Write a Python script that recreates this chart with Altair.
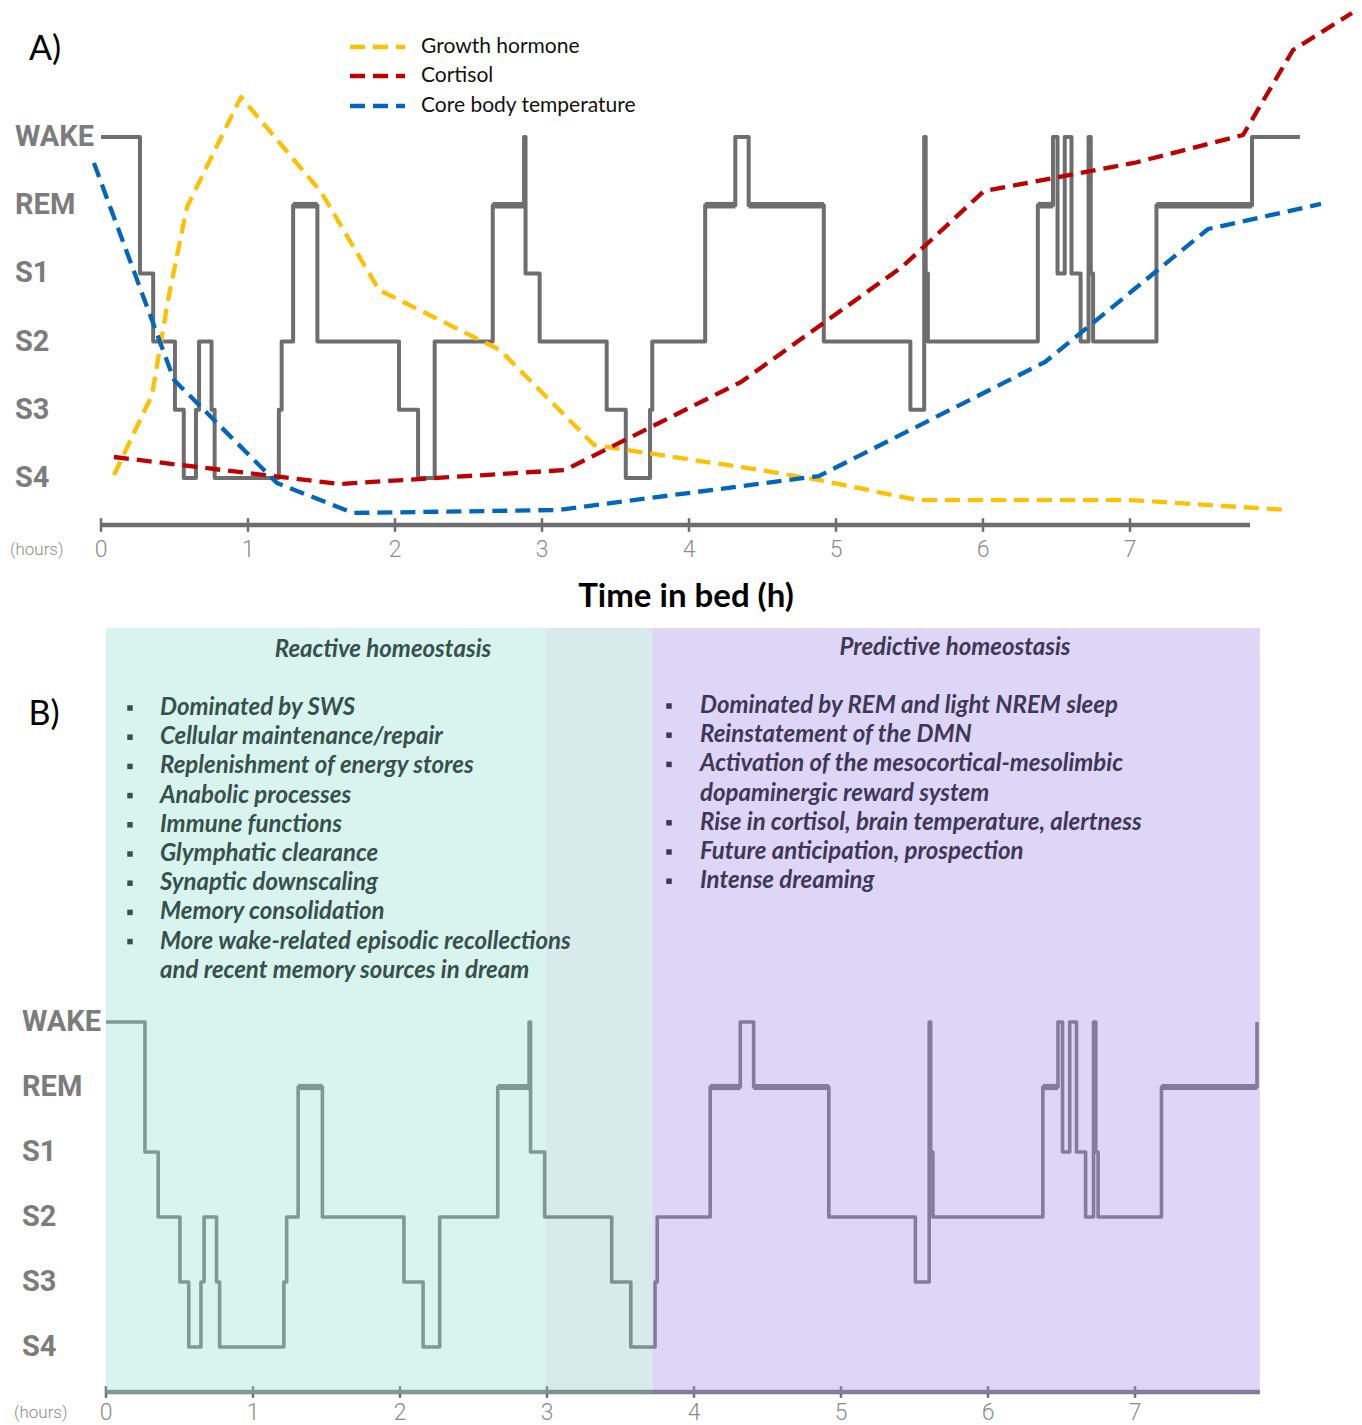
import altair as alt
import pandas as pd

# ---------------- data ----------------
STAGES = ["S4", "S3", "S2", "S1", "REM", "WAKE"]  # bottom -> top

# hypnogram: time (h) at which each stage begins
hyp_times = [0, 0.265, 0.355, 0.503, 0.563, 0.646, 0.667, 0.752, 0.773, 1.21, 1.229,
             1.307, 1.472, 2.027, 2.157, 2.27, 2.665, 2.878, 2.888, 2.984, 3.44, 3.57,
             3.735, 3.75, 4.11, 4.315, 4.406, 4.917, 5.506, 5.60, 5.61, 5.625, 6.373,
             6.476, 6.507, 6.556, 6.602, 6.664, 6.718, 6.733, 6.749, 7.18, 7.83]
hyp_stages = ["WAKE", "S1", "S2", "S3", "S4", "S3", "S2", "S3", "S4", "S3", "S2",
              "REM", "S2", "S3", "S4", "S2", "REM", "WAKE", "S1", "S2", "S3", "S4",
              "S3", "S2", "REM", "WAKE", "REM", "S2", "S3", "WAKE", "S1", "S2", "REM",
              "WAKE", "S1", "WAKE", "S1", "S2", "WAKE", "S1", "S2", "REM", "WAKE"]
hypA_end_time = 8.156  # panel A: final wake segment

# hormone / temperature curves (arbitrary units, same scale as stage levels)
gh_t = [0.088, 0.347, 0.456, 0.585, 0.952, 1.497, 1.891, 2.714, 3.354, 4.483, 4.884, 5.551, 7.0, 8.068]
gh_v = [0.044, 1.217, 2.610, 3.974, 5.587, 4.194, 2.757, 1.877, 0.484, 0.117, -0.029, -0.323, -0.323, -0.469]
cort_t = [0.088, 1.619, 3.156, 4.354, 5.449, 6.007, 7.027, 7.769, 8.109, 8.510]
cort_v = [0.308, -0.088, 0.117, 1.408, 3.094, 4.208, 4.619, 5.029, 6.276, 6.818]
temp_t = [-0.048, 0.497, 1.197, 1.714, 3.109, 4.884, 6.422, 7.531, 8.299]
temp_v = [4.619, 1.437, -0.073, -0.513, -0.469, 0.029, 1.701, 3.651, 4.018]

series_names = ["Growth hormone", "Cortisol", "Core body temperature"]
series_colors = ["#ffc000", "#c00000", "#0066c0"]

hour_ticks = [0, 1, 2, 3, 4, 5, 6, 7]

phase_names = ["Reactive", "Transition", "Predictive"]
phase_start = [0, 2.99, 3.72]
phase_end = [2.99, 3.72, 7.85]
phase_colors = ["#9ce2d5", "#9cc8cd", "#a994e8"]

reactive_title = "Reactive homeostasis"
reactive_items = ["Dominated by SWS", "Cellular maintenance/repair",
                  "Replenishment of energy stores", "Anabolic processes",
                  "Immune functions", "Glymphatic clearance", "Synaptic downscaling",
                  "Memory consolidation",
                  "More wake-related episodic recollections\nand recent memory sources in dream"]
predictive_title = "Predictive homeostasis"
predictive_items = ["Dominated by REM and light NREM sleep", "Reinstatement of the DMN",
                    "Activation of the mesocortical-mesolimbic\ndopaminergic reward system",
                    "Rise in cortisol, brain temperature, alertness",
                    "Future anticipation, prospection", "Intense dreaming"]

# ---------------- layout ----------------
W = 1346
HA, HB = 610, 807
PAGE_TOP_B = 8 + HA


def ha(px):  # page x -> hours, panel A
    return (px - 101) / 147.0


def va(py):  # page y -> level units, panel A
    return (478 - py) / 68.2


def hb(px):  # page x -> hours, panel B
    return (px - 106) / 147.0


def vb(py):  # page y -> level units, panel B
    return (1347 - py) / 65.0


XA_DOM = [ha(8), ha(8 + W)]
YA_DOM = [va(8 + HA), va(8)]
XB_DOM = [hb(8), hb(8 + W)]
YB_DOM = [vb(PAGE_TOP_B + HB), vb(PAGE_TOP_B)]

COND = "Roboto, sans-serif"
BODY = "Lato, Open Sans, sans-serif"
LINE_GRAY = "#6e6e6e"
LABEL_GRAY = "#7c7c7c"
TICK_GRAY = "#8c8c8c"


def enc(dom_x, dom_y):
    def X(f):
        return alt.X(f, type="quantitative", scale=alt.Scale(domain=dom_x, nice=False, zero=False), axis=None)

    def Y(f):
        return alt.Y(f, type="quantitative", scale=alt.Scale(domain=dom_y, nice=False, zero=False), axis=None)
    return X, Y


level = {s: i for i, s in enumerate(STAGES)}


def hyp_df(extra=None):
    t = list(hyp_times)
    s = list(hyp_stages)
    if extra is not None:
        t.append(extra)
        s.append("WAKE")
    return pd.DataFrame({"t": t, "v": [level[k] for k in s]})


def rem_df():
    rows = []
    for i, s in enumerate(hyp_stages[:-1]):
        if s == "REM":
            rows.append({"t": hyp_times[i], "t2": hyp_times[i + 1], "v": level["REM"]})
    return pd.DataFrame(rows)


def hyp_layers(X, Y, extra, width):
    line = alt.Chart(hyp_df(extra)).mark_line(
        interpolate="step-after", color=LINE_GRAY, strokeWidth=width, strokeJoin="round",
        clip=True).encode(x=X("t"), y=Y("v"))
    rem = alt.Chart(rem_df()).mark_rule(color=LINE_GRAY, strokeWidth=width + 2.6).encode(
        x=X("t"), x2="t2", y=Y("v"))
    return line, rem


def axis_layers(X, Y, axis_v, axis_end, label_v, hours_x, tick_half, label_size):
    axis_df = pd.DataFrame({"x": [0], "x2": [axis_end], "y": [axis_v]})
    ax = alt.Chart(axis_df).mark_rule(color=LINE_GRAY, strokeWidth=4.5).encode(
        x=X("x"), x2="x2", y=Y("y"))
    ticks_df = pd.DataFrame({"h": hour_ticks, "y1": [axis_v - tick_half] * len(hour_ticks),
                             "y2": [axis_v + tick_half] * len(hour_ticks)})
    tk = alt.Chart(ticks_df).mark_rule(color=LINE_GRAY, strokeWidth=2.5).encode(
        x=X("h"), y=Y("y1"), y2="y2")
    lab_df = pd.DataFrame({"h": hour_ticks, "y": [label_v] * len(hour_ticks),
                           "txt": [str(h) for h in hour_ticks]})
    lb = alt.Chart(lab_df).mark_text(font=COND, fontSize=label_size, fontWeight=300, color=TICK_GRAY,
                                     baseline="middle", align="center").encode(
        x=X("h"), y=Y("y"), text="txt")
    hr_df = pd.DataFrame({"x": [hours_x], "y": [label_v], "txt": ["(hours)"]})
    hr = alt.Chart(hr_df).mark_text(font=COND, fontSize=17, fontWeight=300, color=TICK_GRAY,
                                    baseline="middle", align="left").encode(
        x=X("x"), y=Y("y"), text="txt")
    return ax, tk, lb, hr


def stage_labels(X, Y, x_left):
    df = pd.DataFrame({"x": [x_left] * len(STAGES), "y": [level[s] for s in STAGES], "txt": STAGES})
    return alt.Chart(df).mark_text(font=COND, fontSize=29, fontWeight="bold", color=LABEL_GRAY,
                                   align="left", baseline="middle").encode(
        x=X("x"), y=Y("y"), text="txt")


# ---------------- panel A ----------------
XA, YA = enc(XA_DOM, YA_DOM)
ax_a, tk_a, lb_a, hr_a = axis_layers(XA, YA, va(525), ha(1250), va(550), ha(10), 0.1, 23)
hyp_a, rem_a = hyp_layers(XA, YA, hypA_end_time, 4)

curves = pd.concat([
    pd.DataFrame({"t": gh_t, "v": gh_v, "s": series_names[0], "c": series_colors[0]}),
    pd.DataFrame({"t": cort_t, "v": cort_v, "s": series_names[1], "c": series_colors[1]}),
    pd.DataFrame({"t": temp_t, "v": temp_v, "s": series_names[2], "c": series_colors[2]}),
])
dash = alt.Chart(curves).mark_line(strokeDash=[15, 8], strokeWidth=4.3, strokeJoin="round",
                                   clip=True).encode(
    x=XA("t"), y=YA("v"), color=alt.Color("c:N", scale=None), detail="s:N")

leg_df = pd.DataFrame({"s": series_names, "c": series_colors, "x": [ha(350)] * 3, "x2": [ha(405)] * 3,
                       "y": [va(47), va(76), va(106)], "xt": [ha(421)] * 3})
leg_lines = alt.Chart(leg_df).mark_rule(strokeDash=[15, 8], strokeWidth=4.5).encode(
    x=XA("x"), x2="x2", y=YA("y"), color=alt.Color("c:N", scale=None))
leg_text = alt.Chart(leg_df).mark_text(font=BODY, fontSize=21, color="#111111",
                                       align="left", baseline="middle").encode(
    x=XA("xt"), y=YA("y"), text="s:N")

title_a = alt.Chart(pd.DataFrame({"x": [ha(45)], "y": [va(50)], "txt": ["A)"]})).mark_text(
    font=BODY, fontSize=34, color="#000000", align="center", baseline="middle").encode(
    x=XA("x"), y=YA("y"), text="txt")
xlab_a = alt.Chart(pd.DataFrame({"x": [ha(686)], "y": [va(597)], "txt": ["Time in bed (h)"]})).mark_text(
    font=BODY, fontSize=33, fontWeight="bold", color="#000000", align="center", baseline="middle").encode(
    x=XA("x"), y=YA("y"), text="txt")

panel_a = alt.layer(ax_a, tk_a, lb_a, hr_a, stage_labels(XA, YA, ha(15)), hyp_a, rem_a, dash,
                    leg_lines, leg_text, title_a, xlab_a).properties(width=W, height=HA)

# ---------------- panel B ----------------
XB, YB = enc(XB_DOM, YB_DOM)
ax_b, tk_b, lb_b, hr_b = axis_layers(XB, YB, vb(1392), 7.85, vb(1413), hb(14), 0.09, 23)
hyp_b, rem_b = hyp_layers(XB, YB, None, 3.6)

rect_df = pd.DataFrame({"p": phase_names, "c": phase_colors, "x": phase_start, "x2": phase_end,
                        "y": [vb(1394)] * 3, "y2": [vb(628)] * 3})
rects = alt.Chart(rect_df).mark_rect(opacity=0.385).encode(
    x=XB("x"), x2="x2", y=YB("y"), y2="y2", color=alt.Color("c:N", scale=None))


def bullet_block(items, x_bullet, x_text, py_top, py_step, color):
    rows, bullets = [], []
    i = 0
    for item in items:
        parts = item.split("\n")
        bullets.append({"x": x_bullet, "y": vb(py_top + i * py_step)})
        for p in parts:
            rows.append({"x": x_text, "y": vb(py_top + i * py_step), "txt": p})
            i += 1
    t = alt.Chart(pd.DataFrame(rows)).mark_text(
        font=BODY, fontSize=24, fontWeight="bold", fontStyle="italic", color=color,
        align="left", baseline="middle").encode(x=XB("x"), y=YB("y"), text="txt")
    b = alt.Chart(pd.DataFrame(bullets)).mark_square(size=30, color=color, opacity=1).encode(
        x=XB("x"), y=YB("y"))
    return t, b


LEFT_C = "#37504b"
RIGHT_C = "#3e3857"
lt, lbul = bullet_block(reactive_items, hb(130), hb(160), 708, 29.2, LEFT_C)
rt, rbul = bullet_block(predictive_items, hb(669), hb(700), 706, 29.2, RIGHT_C)

titles_b = alt.Chart(pd.DataFrame({"x": [hb(383), hb(955)], "y": [vb(650), vb(648)],
                                   "txt": [reactive_title, predictive_title],
                                   "c": [LEFT_C, RIGHT_C]})).mark_text(
    font=BODY, fontSize=24, fontWeight="bold", fontStyle="italic",
    align="center", baseline="middle").encode(
    x=XB("x"), y=YB("y"), text="txt", color=alt.Color("c:N", scale=None))

title_b = alt.Chart(pd.DataFrame({"x": [hb(44)], "y": [vb(715)], "txt": ["B)"]})).mark_text(
    font=BODY, fontSize=34, color="#000000", align="center", baseline="middle").encode(
    x=XB("x"), y=YB("y"), text="txt")

panel_b = alt.layer(ax_b, tk_b, lb_b, hr_b, stage_labels(XB, YB, hb(22)), hyp_b, rem_b, rects,
                    lt, lbul, rt, rbul, titles_b, title_b).properties(width=W, height=HB)

chart = alt.vconcat(panel_a, panel_b, spacing=0).properties(padding=0).configure_view(stroke=None)
chart.save("out.html", embed_options={"renderer": "svg", "actions": False})
